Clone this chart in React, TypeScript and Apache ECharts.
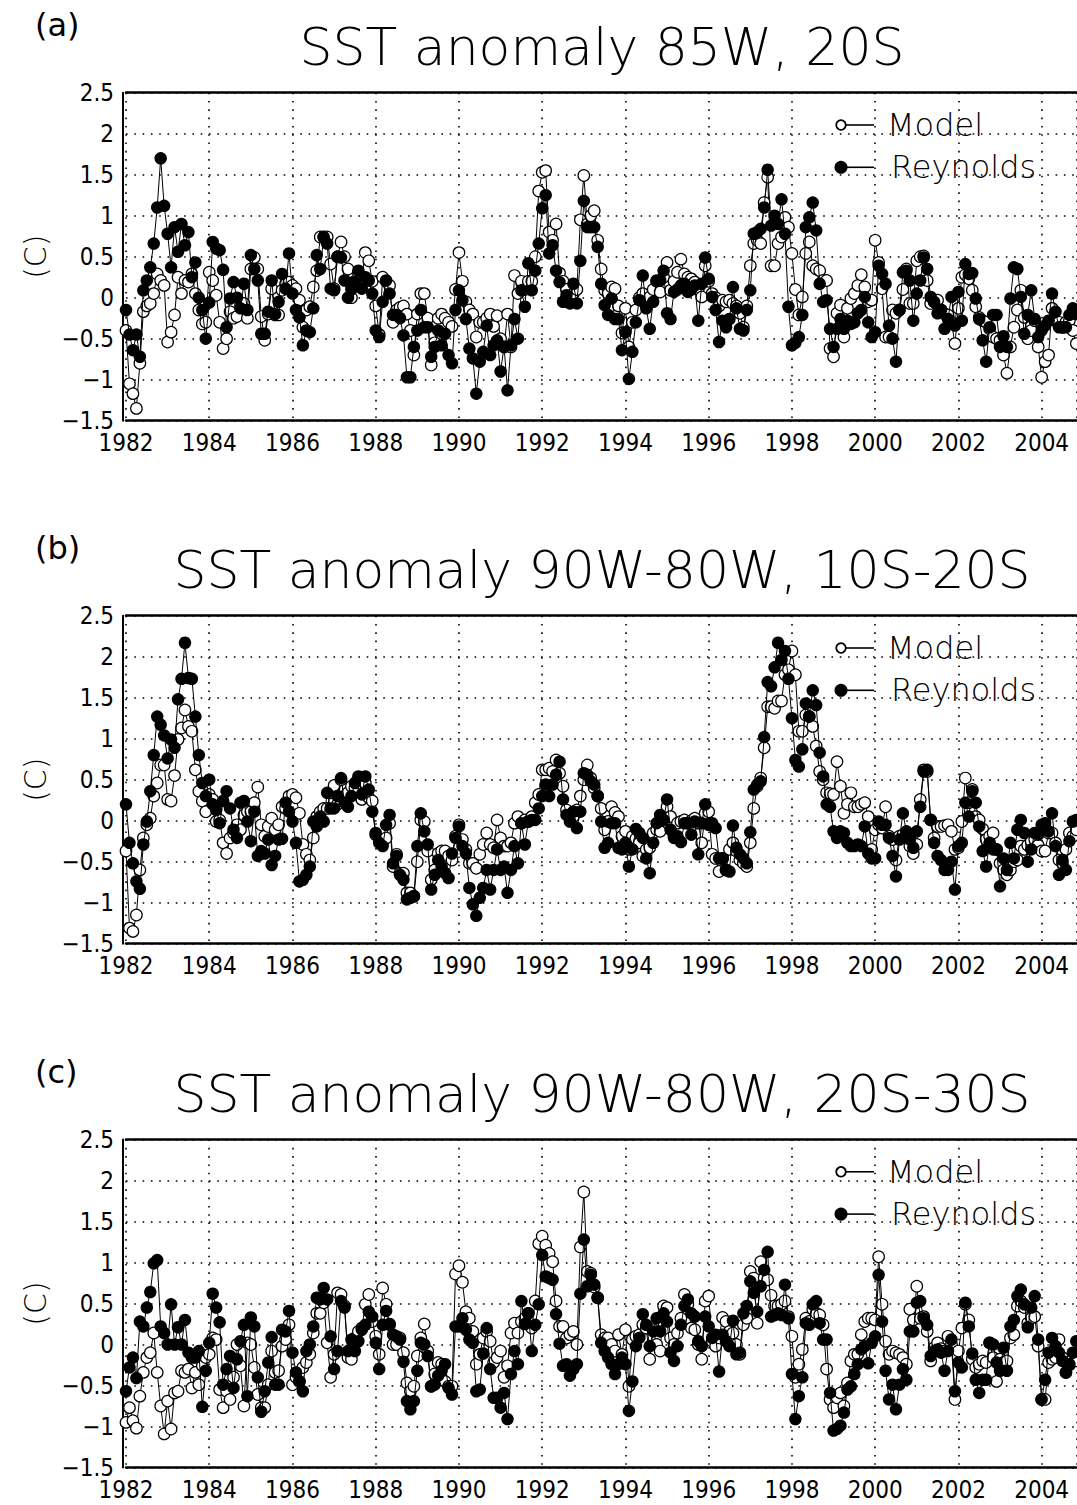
import React, { useEffect, useRef } from "react";
import * as echarts from "echarts";

// ---------- data (monthly, Jan 1982 onward) ----------
const START_YEAR = 1982;

const reynoldsA = [
  -0.15,-0.45,-0.64,-0.45,-0.72,0.09,0.21,0.37,0.66,1.1,
  1.7,1.12,0.78,0.37,0.86,0.56,0.9,0.64,0.8,0.25,
  0.43,0.0,-0.15,-0.5,-0.06,0.68,0.6,0.58,0.34,-0.36,
  -0.01,0.19,0,-0.13,0.17,-0.15,0.52,0.35,0.21,-0.44,
  -0.44,-0.17,0.21,-0.2,-0.05,0.29,0.11,0.54,0.05,-0.15,
  -0.24,-0.58,-0.4,-0.42,-0.13,0.52,0.35,0.74,0.66,0.11,
  0.09,0.5,
  0.49,0.21,0,0.1,0.19,0.33,0.11,0.25,0.21,0.05,
  -0.4,-0.48,-0.05,0.21,0.05,-0.21,-0.21,-0.25,-0.46,-0.97,
  -0.97,-0.6,-0.4,-0.15,-0.36,-0.36,-0.72,-0.6,-0.4,-0.58,
  -0.44,-0.7,-0.8,-0.15,0.09,-0.03,-0.26,-0.62,-0.74,-1.17,
  -0.78,-0.66,-0.34,-0.7,-0.58,-0.52,-0.9,-0.6,-1.13,-0.58,
  -0.26,-0.5,0.09,-0.11,0.42,0.09,0.33,0.66,1.09,1.25,
  0.54,0.64,0.33,0.19,-0.05,0.03,-0.07,0.17,-0.07,0.45,
  1.18,0.86,0.86,0.86,0.62,0.17,-0.09,-0.21,-0.01,-0.26,
  -0.26,-0.64,-0.42,-0.99,-0.66,-0.3,-0.03,0.27,-0.13,-0.38,
  -0.05,0.21,0.21,0.33,-0.19,-0.26,0.07,0.1,0.15,0.17,
  0.07,0.1,0.15,-0.28,0.17,0.49,0.23,0.01,-0.15,-0.54,
  -0.28,-0.36,-0.26,0.13,-0.13,-0.38,-0.4,-0.15,0.09,0.78,
  0.8,0.84,1.1,1.56,0.88,1.0,0.9,1.2,0.78,-0.11,
  -0.58,-0.55,-0.48,-0.21,0.86,0.98,1.16,0.82,0.17,-0.05,
  -0.03,-0.38,-0.6,-0.38,-0.26,-0.38,-0.28,-0.32,-0.3,-0.19,
  -0.15,0.01,-0.3,-0.48,-0.42,0.39,0.29,0.17,-0.34,-0.5,
  -0.78,-0.15,0.31,0.33,0.21,-0.28,0.05,0.21,0.49,0.35,
  0.01,-0.05,-0.19,-0.15,-0.38,-0.26,0.01,-0.34,0.07,-0.28,
  0.41,0.29,0.3,-0.01,-0.26,-0.52,-0.78,-0.36,-0.21,-0.21,
  -0.6,-0.47,-0.6,-0.01,0.37,0.35,0.01,-0.44,-0.21,0.09,
  -0.26,-0.48,-0.4,-0.34,-0.28,0.05,-0.17,-0.36,-0.36,-0.36,
  -0.21,-0.13,-0.2,
];

const modelA = [
  -0.4,-1.05,-1.17,-1.35,-0.8,-0.17,-0.1,-0.07,0.05,0.29,
  0.21,0.15,-0.54,-0.42,-0.21,0.25,0.05,0.21,0.19,0.29,
  0.05,-0.15,-0.32,-0.3,0.31,0.21,0.03,-0.3,-0.62,-0.5,
  -0.17,-0.25,-0.23,-0.1,-0.07,-0.25,0.35,0.49,0.35,-0.23,
  -0.52,-0.2,0.11,-0.21,-0.21,0.09,0.17,0.19,0.15,0.11,
  -0.03,-0.36,-0.15,-0.11,0.13,0.33,0.74,0.74,0.74,0.41,
  0.11,0.5,
  0.68,0.5,0.35,0.0,0.2,0.3,0.25,0.55,0.45,0.2,
  -0.1,-0.45,0.25,0.2,0.15,-0.3,-0.15,-0.12,-0.1,-0.2,
  -0.4,-0.7,-0.2,0.05,0.05,-0.25,-0.82,-0.55,-0.25,-0.2,
  -0.25,-0.3,-0.35,0.1,0.55,0.2,-0.05,-0.15,-0.2,-0.48,
  -0.3,-0.3,-0.25,-0.2,-0.35,-0.22,-0.5,-0.6,-0.2,-0.6,
  0.27,0.05,0.2,0.1,0.2,0.2,0.5,1.3,1.53,1.55,
  0.8,0.7,0.9,0.3,0.2,0.1,-0.05,0.05,0.1,0.95,
  1.49,0.9,1.0,1.06,0.7,0.35,0.09,0.05,0.13,0.11,
  -0.1,-0.43,-0.13,-0.6,-0.3,-0.15,0.0,0.05,-0.05,0.01,
  0.1,0.2,0.07,0.25,0.43,0.09,0.2,0.31,0.47,0.29,
  0.25,0.23,0.19,0.1,0.01,0.39,0.2,0.05,0.0,-0.1,
  -0.03,-0.05,-0.03,-0.07,-0.1,-0.19,-0.36,-0.1,0.39,0.66,
  0.7,0.66,1.16,1.47,0.39,0.39,0.66,0.74,0.98,0.86,
  0.54,0.1,-0.21,0.01,0.54,0.68,0.39,0.35,0.33,0.21,
  0.21,-0.62,-0.72,-0.19,-0.09,-0.48,-0.13,-0.01,0.05,0.15,
  0.28,0.13,-0.05,-0.03,0.7,0.43,0.11,-0.48,-0.48,-0.15,
  -0.19,-0.15,0.1,0.35,-0.07,-0.07,0.45,0.5,0.51,0.21,
  -0.07,-0.05,-0.03,-0.15,-0.2,-0.21,-0.3,-0.56,-0.13,0.25,
  0.28,0.23,0.09,-0.11,-0.24,-0.28,-0.3,-0.38,-0.48,-0.5,
  -0.52,-0.7,-0.92,-0.6,-0.36,-0.15,0.09,-0.24,-0.5,-0.4,
  -0.28,-0.6,-0.97,-0.78,-0.7,-0.13,-0.28,-0.3,-0.36,-0.3,
  -0.28,-0.4,-0.56,
];

const reynoldsB = [
  0.2,-0.27,-0.52,-0.74,-0.83,-0.29,-0.01,0.36,0.8,1.27,
  1.17,1.04,0.76,0.99,0.89,1.48,1.73,2.17,1.74,1.73,
  1.27,0.8,0.46,0.3,0.5,0.2,0.13,-0.03,0.24,0.36,
  0.15,-0.11,-0.21,0.22,0.24,-0.01,-0.25,0.11,-0.43,-0.37,
  -0.4,-0.23,-0.54,-0.43,-0.23,-0.22,0.22,0.11,-0.01,-0.27,
  -0.74,-0.72,-0.66,-0.56,-0.01,-0.07,0.05,-0.01,0.34,0.15,
  0.15,0.3,
  0.52,0.22,0.17,0.3,0.46,0.54,0.32,0.54,0.38,0.11,
  -0.15,-0.27,-0.31,-0.05,0.07,-0.52,-0.43,-0.66,-0.72,-0.96,
  -0.94,-0.92,-0.31,0.09,-0.13,-0.29,-0.84,-0.66,-0.48,-0.56,
  -0.64,-0.7,-0.4,-0.21,-0.07,-0.31,-0.4,-0.82,-1.02,-1.16,
  -0.94,-0.82,-0.6,-0.84,-0.6,-0.35,-0.6,-0.56,-0.88,-0.6,
  -0.31,-0.52,-0.03,-0.29,-0.01,0.01,0.01,0.15,0.3,0.44,
  0.3,0.44,0.56,0.72,0.26,0.07,-0.01,0.11,-0.09,0.11,
  0.58,0.56,0.48,0.44,0.3,-0.01,-0.33,-0.27,-0.03,-0.03,
  -0.33,-0.35,-0.27,-0.56,-0.35,-0.1,-0.15,-0.21,-0.46,-0.64,
  -0.27,-0.03,0.07,0.01,0.26,-0.11,-0.21,-0.19,-0.26,-0.03,
  -0.03,-0.17,-0.01,-0.41,-0.03,0.2,-0.05,-0.03,-0.09,-0.46,
  -0.46,-0.6,-0.62,-0.06,-0.33,-0.41,-0.46,-0.52,-0.14,0.38,
  0.44,0.48,1.02,1.69,1.64,1.87,2.17,1.96,2.07,1.73,
  1.25,0.74,0.66,0.87,1.43,1.27,1.59,1.41,0.83,0.54,
  0.2,0.17,-0.13,-0.21,-0.13,-0.15,-0.27,-0.31,-0.31,-0.29,
  -0.31,-0.07,-0.4,-0.46,-0.46,-0.01,-0.05,-0.05,-0.21,-0.43,
  -0.68,-0.23,0.09,-0.13,-0.23,-0.33,-0.13,0.17,0.6,0.62,
  0.01,-0.27,-0.43,-0.48,-0.6,-0.6,-0.5,-0.84,-0.31,-0.27,
  0.22,0.05,0.36,0.22,-0.07,-0.37,-0.56,-0.27,-0.35,-0.35,
  -0.8,-0.46,-0.6,-0.27,-0.46,-0.11,0.01,-0.15,-0.5,-0.35,
  -0.15,-0.17,-0.05,-0.03,-0.13,0.09,-0.31,-0.66,-0.48,-0.6,
  -0.25,-0.01,0.01,
];

const modelB = [
  -0.37,-1.31,-1.35,-1.15,-0.6,-0.21,-0.05,0.03,0.3,0.46,
  0.68,0.68,0.26,0.24,0.55,0.99,1.13,1.35,1.15,1.09,
  0.62,0.36,0.24,0.11,0.32,0.26,-0.01,0.01,-0.27,-0.4,
  -0.21,-0.15,-0.05,-0.11,0.07,0.11,0.11,0.22,0.41,-0.05,
  -0.19,-0.07,0.03,-0.11,-0.05,0.17,0.15,0.3,0.32,0.28,
  0.09,-0.29,-0.41,-0.48,-0.21,0.05,0.11,0.15,0.15,0.34,
  0.43,0.2,
  0.5,0.3,0.34,0.42,0.4,0.46,0.26,0.46,0.28,0.24,
  -0.17,-0.23,-0.27,-0.21,-0.03,-0.56,-0.41,-0.64,-0.64,-0.88,
  -0.88,-0.92,-0.5,0.01,-0.01,-0.37,-0.72,-0.6,-0.4,-0.37,
  -0.37,-0.43,-0.48,-0.19,-0.05,-0.23,-0.35,-0.52,-0.52,-0.58,
  -0.41,-0.29,-0.15,-0.29,-0.33,0.01,-0.21,-0.31,-0.31,-0.27,
  -0.03,0.05,-0.03,0.01,-0.01,0.05,0.22,0.32,0.62,0.62,
  0.64,0.6,0.74,0.58,0.42,0.13,0.05,0.05,0.13,0.3,
  0.5,0.68,0.52,0.4,0.3,0.15,-0.11,-0.01,0.17,0.1,
  0.05,-0.19,-0.13,-0.35,-0.19,-0.22,-0.27,-0.43,-0.35,-0.33,
  -0.15,-0.11,-0.13,0.05,0.17,0.05,-0.19,-0.03,-0.01,0.01,
  -0.03,0.0,0.03,-0.03,-0.27,0.09,0.11,-0.41,-0.46,-0.62,
  -0.46,-0.6,-0.35,-0.27,-0.37,-0.48,-0.52,-0.56,-0.27,0.15,
  0.42,0.52,0.89,1.39,1.39,1.37,1.46,1.46,1.78,1.84,
  2.07,1.78,1.09,1.09,1.29,1.27,1.15,0.91,0.6,0.5,
  0.34,0.33,0.32,0.72,0.42,0.09,0.2,0.34,0.17,0.17,
  0.2,0.22,0.05,-0.35,-0.11,-0.05,-0.09,0.17,-0.19,-0.23,
  -0.48,-0.19,-0.17,-0.21,-0.31,-0.4,-0.29,0.26,0.62,0.6,
  0.01,-0.21,-0.07,-0.07,-0.06,-0.05,-0.13,-0.35,-0.33,-0.01,
  0.52,0.22,0.38,0.05,0.01,-0.1,-0.23,-0.19,-0.15,-0.35,
  -0.52,-0.6,-0.66,-0.6,-0.5,-0.48,-0.31,-0.35,-0.3,-0.25,
  -0.23,-0.3,-0.37,-0.37,-0.15,-0.15,-0.27,-0.48,-0.52,-0.35,
  -0.15,-0.19,-0.11,
];

const reynoldsC = [
  -0.57,-0.28,-0.16,-0.41,0.28,0.22,0.45,0.64,0.99,1.03,
  0.22,0.14,0,0.49,0,0.21,0,0.3,-0.1,-0.16,
  -0.16,-0.08,-0.76,-0.32,0.02,0.62,0.45,0.27,-0.49,-0.3,
  -0.14,-0.53,-0.18,0.04,0.24,-0.63,0.33,0.22,-0.4,-0.82,
  -0.57,-0.22,0.09,-0.49,-0.49,0.18,0.16,0.41,-0.1,-0.34,
  -0.45,-0.57,-0.08,0,0.22,0.57,0.55,0.69,0.55,0.1,
  -0.3,-0.08,
  0.53,0.45,-0.08,0.06,-0.08,0.04,0.18,0.24,0.4,0.34,
  0.02,-0.3,0.24,0.41,0.25,0.12,0.1,0.06,-0.21,-0.69,
  -0.79,-0.69,-0.32,0.02,0,-0.14,-0.51,-0.49,-0.38,-0.32,
  -0.24,-0.53,-0.61,0.22,0.22,0.32,0.18,0.06,0.02,-0.57,
  -0.55,-0.11,0.2,-0.3,-0.65,-0.65,-0.77,-0.59,-0.91,-0.36,
  -0.08,-0.24,0.53,0.25,0.38,-0.08,0.24,0.49,1.09,0.83,
  0.81,0.79,0.37,0.01,-0.26,-0.24,-0.38,-0.3,-0.24,0.62,
  1.28,0.71,0.85,0.73,0.57,0.02,-0.08,-0.16,-0.24,-0.36,
  -0.24,-0.16,-0.24,-0.81,-0.45,-0.02,0.08,0.37,0.24,-0.02,
  0.16,0.32,0.16,0.38,0.28,-0.1,-0.2,-0.02,0.24,0.47,
  0.55,0.38,0.34,0.04,-0.02,0.34,0.22,0.08,0.12,-0.33,
  0.12,0.04,-0.02,0.29,-0.12,-0.1,0.38,0.47,0.77,0.63,
  0.4,0.71,0.91,1.13,0.34,0.36,0.38,0.36,0.73,0.32,
  -0.36,-0.91,-0.63,-0.4,0.26,0.24,0.49,0.53,0.26,0.06,
  0.06,-0.59,-1.05,-1.03,-0.99,-0.83,-0.55,-0.51,-0.36,-0.24,
  -0.06,-0.02,-0.23,0.02,0.1,0.85,0.28,-0.32,-0.67,-0.49,
  -0.79,-0.49,-0.3,-0.43,0.16,0.16,0.51,0.53,0.32,0.24,
  -0.14,-0.08,-0.06,-0.1,-0.32,-0.08,0.06,-0.57,-0.22,-0.28,
  0.51,0.22,-0.11,-0.43,-0.59,-0.43,-0.43,0.02,0,-0.22,
  -0.32,-0.04,-0.32,0.22,0.3,0.59,0.67,0.49,0.21,0.45,
  0.59,0.06,-0.67,-0.43,-0.1,0.08,-0.02,-0.1,-0.2,-0.34,
  -0.24,-0.1,0.04,
];

const modelC = [
  -0.95,-0.77,-0.93,-1.02,-0.63,-0.34,-0.16,-0.1,0.14,-0.34,
  -0.75,-1.09,-0.69,-1.03,-0.59,-0.57,-0.32,-0.34,-0.3,-0.53,
  -0.34,-0.49,-0.26,-0.16,-0.12,0.08,0.06,-0.55,-0.77,-0.57,
  -0.67,-0.4,0,-0.26,-0.75,0.02,0,-0.28,-0.61,-0.77,
  -0.77,-0.49,-0.08,-0.34,-0.32,-0.02,0.06,0.24,-0.49,-0.4,
  -0.45,-0.28,-0.22,-0.12,0.14,0.38,0.38,0.51,0.02,-0.4,
  -0.12,0.63,
  0.61,0.47,-0.16,-0.18,0.08,0.16,0.2,0.49,0.61,0.28,
  0.1,-0.12,0.69,0.49,0.24,0,0,0.08,-0.1,-0.47,
  -0.57,-0.51,-0.14,0.08,0.25,-0.08,-0.51,-0.36,-0.22,-0.24,
  -0.45,-0.51,-0.51,0.86,0.96,0.76,0.4,0.32,0.16,-0.24,
  -0.12,0.08,0.16,0.04,-0.22,-0.16,-0.08,-0.4,-0.26,0.14,
  0.26,0.14,0.28,0.32,0.38,0.2,0.53,1.23,1.32,1.21,
  1.11,1.01,0.53,0.22,0.22,0.08,0.12,0.16,0,1.19,
  1.86,0.89,0.87,0.7,0.57,0.12,0.08,0.08,0.0,-0.08,
  0.12,-0.12,0.18,-0.51,0.06,0.1,0.12,0.24,0.2,-0.18,
  0.18,0.0,-0.08,0.47,0.45,0.08,0,0.14,0.32,0.61,
  0.49,0.2,0.18,0.0,-0.18,0.53,0.59,0.04,-0.02,0.08,
  0.33,0.28,0.16,0.14,0,-0.12,0.24,0.32,0.89,0.81,
  0.26,1.01,0.81,0.79,0.6,0.47,0.47,0.49,0.53,0.34,
  0.1,-0.4,-0.24,-0.06,0.32,0.28,0.43,0.38,0.36,0.24,
  -0.3,-0.67,-0.77,-0.65,-0.59,-0.75,-0.47,-0.2,-0.12,-0.12,
  0.12,0.28,0.32,0.32,0.3,1.07,0.49,0.04,-0.12,-0.08,
  -0.1,-0.12,-0.16,-0.24,0.43,0.3,0.71,0.32,0.34,0.16,
  -0.2,-0.04,0.02,-0.05,-0.08,0.1,0.0,-0.67,-0.08,0.2,
  0.49,0.3,-0.18,-0.28,-0.24,-0.2,-0.22,0.02,-0.16,-0.45,
  -0.18,-0.22,-0.2,0.08,0.12,0.47,0.53,0.45,0.26,0.32,
  0.34,-0.02,-0.67,-0.67,-0.22,-0.18,-0.16,0.06,-0.16,-0.34,
  -0.25,-0.16,-0.2,
];

const panelLabels = ["(a)", "(b)", "(c)"];
const panelTitles = [
  "SST anomaly 85W, 20S",
  "SST anomaly 90W-80W, 10S-20S",
  "SST anomaly 90W-80W, 20S-30S",
];
const seriesNames = ["Model", "Reynolds"];
const modelSeries = [modelA, modelB, modelC];
const reynoldsSeries = [reynoldsA, reynoldsB, reynoldsC];

// ---------- layout ----------
const W = 1077;
const H = 1505;
const PLOT_TOPS = [92.7, 615.7, 1139.5];
const PLOT_H = 328;
const GRID_LEFT = 126;
const GRID_W = 951;
const X_MIN = 1982;
const X_MAX = 1982 + GRID_W / 41.62;
const Y_MIN = -1.5;
const Y_MAX = 2.5;

const TICK_FONT = "'DejaVu Sans Condensed', 'DejaVu Sans', sans-serif";
const TEXT_FONT = "'DejaVu Sans', sans-serif";

const dotted = { color: "#000", width: 1.6, type: [1.6, 6.7] as number[] };

function toPoints(values: number[]) {
  return values.map((v, i) => [START_YEAR + i / 12, v]);
}

function buildOption() {
  const grid: any[] = [];
  const xAxis: any[] = [];
  const yAxis: any[] = [];
  const series: any[] = [];
  const graphic: any[] = [];

  PLOT_TOPS.forEach((top, k) => {
    grid.push({ left: GRID_LEFT, top, width: GRID_W, height: PLOT_H });
    xAxis.push({
      type: "value",
      gridIndex: k,
      min: X_MIN,
      max: X_MAX,
      interval: 2,
      axisLine: { show: true, onZero: false, lineStyle: { color: "#000", width: 2.5 } },
      axisTick: { show: false },
      axisLabel: {
        color: "#000",
        fontFamily: TICK_FONT,
        fontSize: 24,
        fontWeight: 200,
        margin: 10,
        showMaxLabel: false,
        formatter: (v: number) => {
          const r = Math.round(v);
          if (Math.abs(v - r) > 1e-6 || r % 2 !== 0) return "";
          return String(r);
        },
      },
      splitLine: { show: true, lineStyle: dotted },
    });
    xAxis.push({
      type: "value",
      gridIndex: k,
      position: "top",
      min: X_MIN,
      max: X_MAX,
      axisLine: { show: true, onZero: false, lineStyle: { color: "#000", width: 2.5 } },
      axisTick: { show: false },
      axisLabel: { show: false },
      splitLine: { show: false },
    });
    yAxis.push({
      type: "value",
      gridIndex: k,
      min: Y_MIN,
      max: Y_MAX,
      interval: 0.5,
      offset: 3,
      axisLine: { show: true, onZero: false, lineStyle: { color: "#000", width: 2 } },
      axisTick: { show: false },
      axisLabel: {
        color: "#000",
        fontFamily: TICK_FONT,
        fontSize: 24,
        fontWeight: 200,
        margin: 9,
        formatter: (v: number) => {
          const r = Math.round(v * 10) / 10;
          if (r === 0) return "0";
          return (r < 0 ? "\u2212" : "") + String(Math.abs(r));
        },
      },
      splitLine: { show: true, lineStyle: dotted },
    });

    series.push({
      name: seriesNames[0],
      type: "line",
      xAxisIndex: 2 * k,
      yAxisIndex: k,
      data: toPoints(modelSeries[k]),
      symbol: "circle",
      symbolSize: 11.5,
      showAllSymbol: true,
      silent: true,
      lineStyle: { color: "#000", width: 1 },
      itemStyle: { color: "#fff", borderColor: "#000", borderWidth: 1.2 },
      z: 2,
    });
    series.push({
      name: seriesNames[1],
      type: "line",
      xAxisIndex: 2 * k,
      yAxisIndex: k,
      data: toPoints(reynoldsSeries[k]),
      symbol: "circle",
      symbolSize: 12.5,
      showAllSymbol: true,
      silent: true,
      lineStyle: { color: "#000", width: 1 },
      itemStyle: { color: "#000", borderColor: "#000", borderWidth: 0 },
      z: 3,
    });

    // panel label, title, y-axis name
    graphic.push({
      type: "text",
      left: 35,
      top: top - 84,
      style: { text: panelLabels[k], font: `32px ${TEXT_FONT}`, fill: "#000" },
    });
    graphic.push({
      type: "text",
      x: 602,
      y: top - 46,
      style: {
        text: panelTitles[k],
        font: `200 52px ${TEXT_FONT}`,
        fill: "#000",
        align: "center",
        verticalAlign: "middle",
        textAlign: "center",
        textVerticalAlign: "middle",
      },
    });
    graphic.push({
      type: "text",
      x: 35,
      y: top + 164,
      rotation: Math.PI / 2,
      style: {
        text: "(C)",
        font: `200 30px ${TEXT_FONT}`,
        fill: "#000",
        align: "center",
        verticalAlign: "middle",
        textAlign: "center",
        textVerticalAlign: "middle",
      },
    });

    // legend
    const ly = [top + 32.3, top + 74.6];
    seriesNames.forEach((name, j) => {
      graphic.push({
        type: "line",
        shape: { x1: 843, y1: ly[j], x2: 874, y2: ly[j] },
        style: { stroke: "#000", lineWidth: 1.6 },
      });
      graphic.push({
        type: "circle",
        shape: { cx: 841, cy: ly[j], r: j === 0 ? 4.8 : 5.6 },
        style: { fill: j === 0 ? "#fff" : "#000", stroke: "#000", lineWidth: 1.8 },
      });
      graphic.push({
        type: "text",
        x: j === 0 ? 887 : 891,
        y: ly[j],
        style: {
          text: name,
          font: `200 32px ${TEXT_FONT}`,
          fill: "#000",
          align: "left",
          verticalAlign: "middle",
          textAlign: "left",
          textVerticalAlign: "middle",
        },
      });
    });
  });

  return {
    animation: false,
    backgroundColor: "#fff",
    grid,
    xAxis,
    yAxis,
    series,
    graphic,
  };
}

export default function App() {
  const ref = useRef<HTMLDivElement | null>(null);
  useEffect(() => {
    document.body.style.margin = "0";
    if (!ref.current) return;
    const chart = echarts.init(ref.current, undefined, { renderer: "svg", width: W, height: H });
    chart.setOption(buildOption() as any);
    return () => chart.dispose();
  }, []);
  return <div ref={ref} style={{ width: W, height: H, background: "#fff" }} />;
}
